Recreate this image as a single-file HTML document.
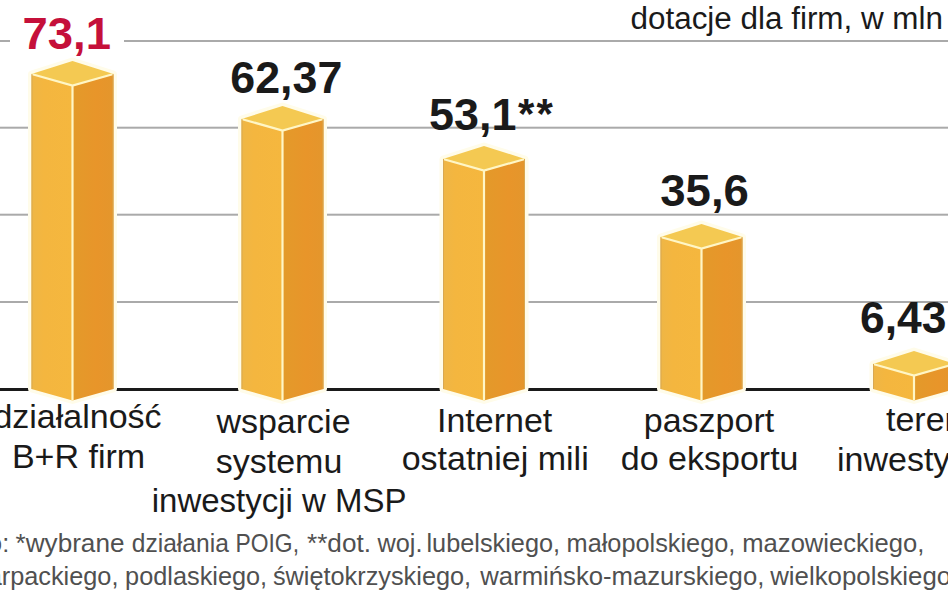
<!DOCTYPE html>
<html><head><meta charset="utf-8">
<style>
html,body{margin:0;padding:0;background:#fff;}
body{width:948px;height:593px;overflow:hidden;position:relative;}
svg{position:absolute;left:0;top:0;}
text{font-family:"Liberation Sans",sans-serif;}
.v{font-weight:bold;font-size:43.5px;fill:#1a1a1a;}
.c{font-size:34px;fill:#1a1a1a;}
.f{font-size:25.3px;fill:#505050;}
</style></head>
<body>
<svg width="948" height="593" viewBox="0 0 948 593">
<defs>
<linearGradient id="gl" x1="0" x2="1" y1="0" y2="0"><stop offset="0" stop-color="#EEB646"/><stop offset="0.3" stop-color="#F4B63F"/><stop offset="1" stop-color="#F5B73E"/></linearGradient>
<linearGradient id="gr" x1="0" x2="1" y1="0" y2="0"><stop offset="0" stop-color="#E39A2A"/><stop offset="0.6" stop-color="#E8952A"/><stop offset="1" stop-color="#E4962C"/></linearGradient>
</defs>
<g fill="#aaaaaa">
<rect x="0" y="40" width="948" height="2"/>
<rect x="0" y="126.7" width="948" height="2"/>
<rect x="0" y="213.7" width="948" height="2"/>
<rect x="0" y="301" width="948" height="2"/>
</g>
<rect x="0" y="388" width="948" height="3" fill="#1a1a1a"/>
<rect x="10" y="14" width="114" height="40" fill="#fff"/>
<path d="M31.5,74 L72.5,61 L113.5,74 L113.5,389 L72.5,400.5 L31.5,389 Z" fill="#FFFCEA" stroke="#FFFCEA" stroke-width="7" stroke-linejoin="round"/><path d="M241.5,119 L282.5,106 L323.5,119 L323.5,389 L282.5,400.5 L241.5,389 Z" fill="#FFFCEA" stroke="#FFFCEA" stroke-width="7" stroke-linejoin="round"/><path d="M443,159 L484,146 L525,159 L525,389 L484,400.5 L443,389 Z" fill="#FFFCEA" stroke="#FFFCEA" stroke-width="7" stroke-linejoin="round"/><path d="M660.5,237 L701.5,224 L742.5,237 L742.5,389 L701.5,400.5 L660.5,389 Z" fill="#FFFCEA" stroke="#FFFCEA" stroke-width="7" stroke-linejoin="round"/><path d="M873,364 L914,351 L955,364 L955,389 L914,400.5 L873,389 Z" fill="#FFFCEA" stroke="#FFFCEA" stroke-width="7" stroke-linejoin="round"/>
<path d="M31.5,74 L72.5,85.5 L72.5,400.5 L31.5,389 Z" fill="url(#gl)"/><path d="M72.5,85.5 L113.5,74 L113.5,389 L72.5,400.5 Z" fill="url(#gr)"/><path d="M31.5,74 L72.5,61 L113.5,74 L72.5,85.5 Z" fill="#F4C952"/><path d="M31.5,74 L72.5,85.5 L113.5,74 M72.5,85.5 L72.5,400.5" fill="none" stroke="#FFF6C6" stroke-width="2.2"/><path d="M32.0,74 L32.0,389 M113.0,74 L113.0,389" fill="none" stroke="#D9A850" stroke-width="1"/><path d="M241.5,119 L282.5,130.5 L282.5,400.5 L241.5,389 Z" fill="url(#gl)"/><path d="M282.5,130.5 L323.5,119 L323.5,389 L282.5,400.5 Z" fill="url(#gr)"/><path d="M241.5,119 L282.5,106 L323.5,119 L282.5,130.5 Z" fill="#F4C952"/><path d="M241.5,119 L282.5,130.5 L323.5,119 M282.5,130.5 L282.5,400.5" fill="none" stroke="#FFF6C6" stroke-width="2.2"/><path d="M242.0,119 L242.0,389 M323.0,119 L323.0,389" fill="none" stroke="#D9A850" stroke-width="1"/><path d="M443,159 L484,170.5 L484,400.5 L443,389 Z" fill="url(#gl)"/><path d="M484,170.5 L525,159 L525,389 L484,400.5 Z" fill="url(#gr)"/><path d="M443,159 L484,146 L525,159 L484,170.5 Z" fill="#F4C952"/><path d="M443,159 L484,170.5 L525,159 M484,170.5 L484,400.5" fill="none" stroke="#FFF6C6" stroke-width="2.2"/><path d="M443.5,159 L443.5,389 M524.5,159 L524.5,389" fill="none" stroke="#D9A850" stroke-width="1"/><path d="M660.5,237 L701.5,248.5 L701.5,400.5 L660.5,389 Z" fill="url(#gl)"/><path d="M701.5,248.5 L742.5,237 L742.5,389 L701.5,400.5 Z" fill="url(#gr)"/><path d="M660.5,237 L701.5,224 L742.5,237 L701.5,248.5 Z" fill="#F4C952"/><path d="M660.5,237 L701.5,248.5 L742.5,237 M701.5,248.5 L701.5,400.5" fill="none" stroke="#FFF6C6" stroke-width="2.2"/><path d="M661.0,237 L661.0,389 M742.0,237 L742.0,389" fill="none" stroke="#D9A850" stroke-width="1"/><path d="M873,364 L914,375.5 L914,400.5 L873,389 Z" fill="url(#gl)"/><path d="M914,375.5 L955,364 L955,389 L914,400.5 Z" fill="url(#gr)"/><path d="M873,364 L914,351 L955,364 L914,375.5 Z" fill="#F4C952"/><path d="M873,364 L914,375.5 L955,364 M914,375.5 L914,400.5" fill="none" stroke="#FFF6C6" stroke-width="2.2"/><path d="M873.5,364 L873.5,389 M954.5,364 L954.5,389" fill="none" stroke="#D9A850" stroke-width="1"/>
<text class="v t" x="22.6" y="49.4" textLength="88.4" lengthAdjust="spacingAndGlyphs" style="fill:#C5103A">73,1</text>
<text class="v t" x="230.3" y="92.7" textLength="112.1" lengthAdjust="spacingAndGlyphs" >62,37</text>
<text class="v t" x="429.1" y="129.6" textLength="87.3" lengthAdjust="spacingAndGlyphs" >53,1</text>
<text class="v t" x="518" y="127.8" style="font-size:42px">*</text>
<text class="v t" x="536.5" y="127.8" style="font-size:42px">*</text>
<text class="v t" x="660.3" y="205.5" textLength="88.6" lengthAdjust="spacingAndGlyphs" >35,6</text>
<text class="v t" x="860.0" y="332.8" textLength="86.4" lengthAdjust="spacingAndGlyphs" >6,43</text>
<text class="t" x="630.5" y="28.7" textLength="312.5" lengthAdjust="spacingAndGlyphs" style="font-size:31px;fill:#1a1a1a">dotacje dla firm, w mln</text>
<text class="c t" x="77.5" y="428.2" text-anchor="middle">działalność</text>
<text class="c t" x="78.5" y="467.6" text-anchor="middle">B+R firm</text>
<text class="c t" x="283.5" y="433.4" text-anchor="middle">wsparcie</text>
<text class="c t" x="279" y="472.9" text-anchor="middle">systemu</text>
<text class="c t" x="279.2" y="512.3" text-anchor="middle" style="font-size:33px">inwestycji w MSP</text>
<text class="c t" x="494.6" y="431.6" text-anchor="middle">Internet</text>
<text class="c t" x="495.2" y="470.3" text-anchor="middle">ostatniej mili</text>
<text class="c t" x="709" y="431.6" text-anchor="middle">paszport</text>
<text class="c t" x="709.7" y="470.3" text-anchor="middle">do eksportu</text>
<text class="c t" x="886" y="431.4">tereny</text>
<text class="c t" x="837" y="471.4">inwestycyjne</text>
<text class="f t" x="9.2" y="552.3" text-anchor="end">Źródło:</text>
<text class="f t" x="15.5" y="552.3" textLength="109" lengthAdjust="spacingAndGlyphs">*wybrane</text>
<text class="f t" x="131.8" y="552.3" textLength="97" lengthAdjust="spacingAndGlyphs">działania</text>
<text class="f t" x="235.5" y="552.3" textLength="63.5" lengthAdjust="spacingAndGlyphs">POIG,</text>
<text class="f t" x="307" y="552.3" textLength="64" lengthAdjust="spacingAndGlyphs">**dot.</text>
<text class="f t" x="377.5" y="552.3">woj.</text>
<text class="f t" x="426.5" y="552.3">lubelskiego,</text>
<text class="f t" x="566.6" y="552.3">małopolskiego,</text>
<text class="f t" x="742.3" y="552.3" textLength="182" lengthAdjust="spacingAndGlyphs">mazowieckiego,</text>
<text class="f t" x="-67.2" y="584.5">podkarpackiego,</text>
<text class="f t" x="125.1" y="584.5">podlaskiego,</text>
<text class="f t" x="272.9" y="584.5">świętokrzyskiego,</text>
<text class="f t" x="480.3" y="584.5" textLength="284" lengthAdjust="spacingAndGlyphs">warmińsko-mazurskiego,</text>
<text class="f t" x="770.2" y="584.5" textLength="181" lengthAdjust="spacingAndGlyphs">wielkopolskiego</text>
</svg>
</body></html>
